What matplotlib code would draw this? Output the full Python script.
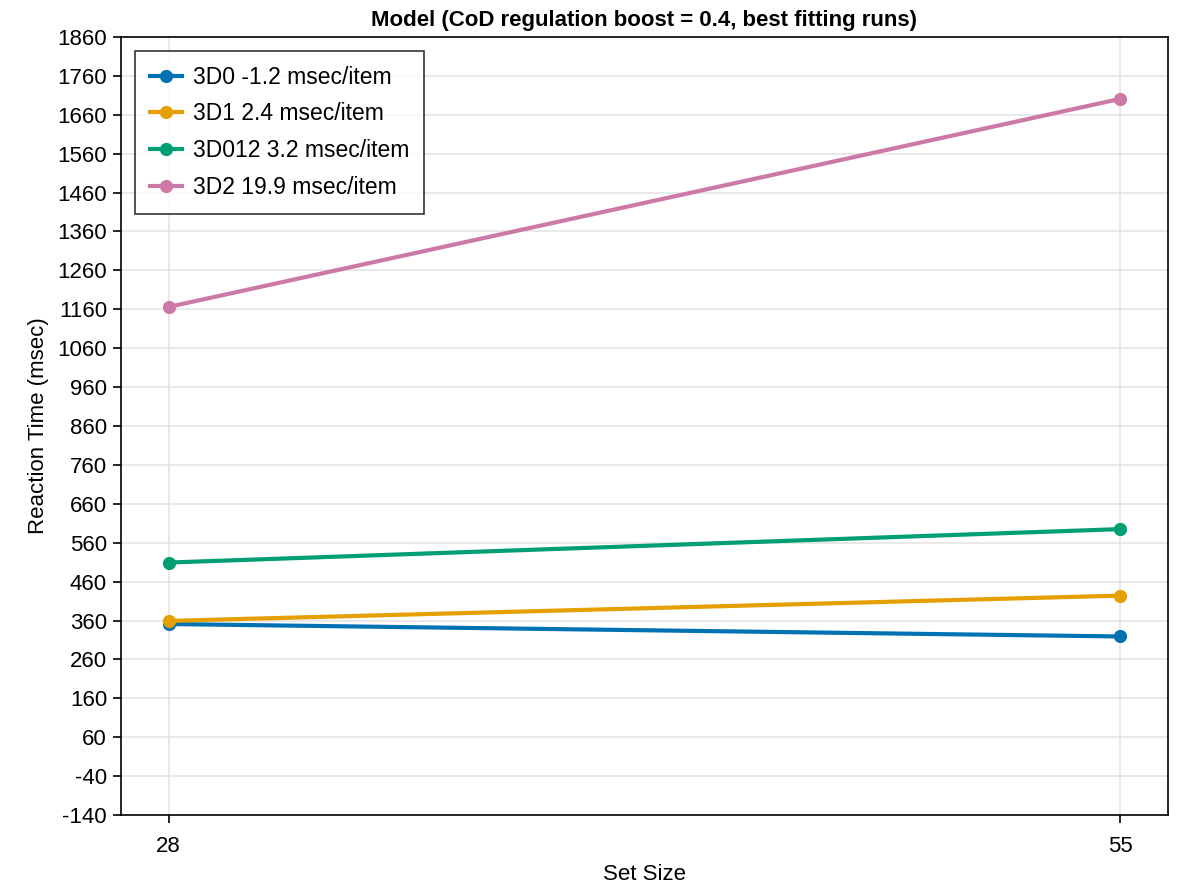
import matplotlib
matplotlib.use("Agg")
import matplotlib.pyplot as plt
import numpy as np

plt.rcParams['font.family'] = ['Liberation Sans', 'DejaVu Sans']
plt.rcParams['axes.unicode_minus'] = False

# set sizes on the x axis and mean reaction times (msec) per condition
set_sizes = [28, 55]
labels = ["3D0 -1.2 msec/item", "3D1 2.4 msec/item", "3D012 3.2 msec/item", "3D2 19.9 msec/item"]
rt_3d0 = [351, 319]
rt_3d1 = [359, 424]
rt_3d012 = [509, 595]
rt_3d2 = [1166, 1701]
colors = ["#0072B2", "#E69F00", "#009E73", "#CC79A7"]
yticks = np.arange(-140, 1861, 100)

fig = plt.figure(figsize=(11.78, 8.89), dpi=100)
ax = fig.add_axes([0.1027, 0.0832, 0.8888, 0.8752])

for rt, lab, c in zip([rt_3d0, rt_3d1, rt_3d012, rt_3d2], labels, colors):
    ax.plot(set_sizes, rt, color=c, linewidth=3.0, marker='o', markersize=8.5, label=lab)

span = set_sizes[-1] - set_sizes[0]
ax.set_xlim(set_sizes[0] - 0.05 * span, set_sizes[-1] + 0.05 * span)
ax.set_ylim(-140, 1860)
ax.set_xticks(set_sizes)
ax.set_yticks(yticks)
ax.grid(True, color='#e3e3e3', linewidth=1.1)
ax.set_axisbelow(True)
for s in ax.spines.values():
    s.set_linewidth(1.2)
ax.tick_params(labelsize=16, length=6, width=1.2, direction='out', pad=4)
ax.tick_params(axis='x', pad=9)

ax.set_xlabel("Set Size", fontsize=16, labelpad=5)
ax.set_ylabel("Reaction Time (msec)", fontsize=16, labelpad=6)
ax.set_title("Model (CoD regulation boost = 0.4, best fitting runs)", fontsize=16, fontweight='bold', pad=8)

leg = ax.legend(loc='upper left', fontsize=16.5, frameon=True, fancybox=False,
                edgecolor='black', handlelength=1.4, handletextpad=0.5,
                borderaxespad=0.6, borderpad=0.65, labelspacing=0.6)
leg.get_frame().set_linewidth(1.2)

fig.savefig("out.png", dpi=100)
